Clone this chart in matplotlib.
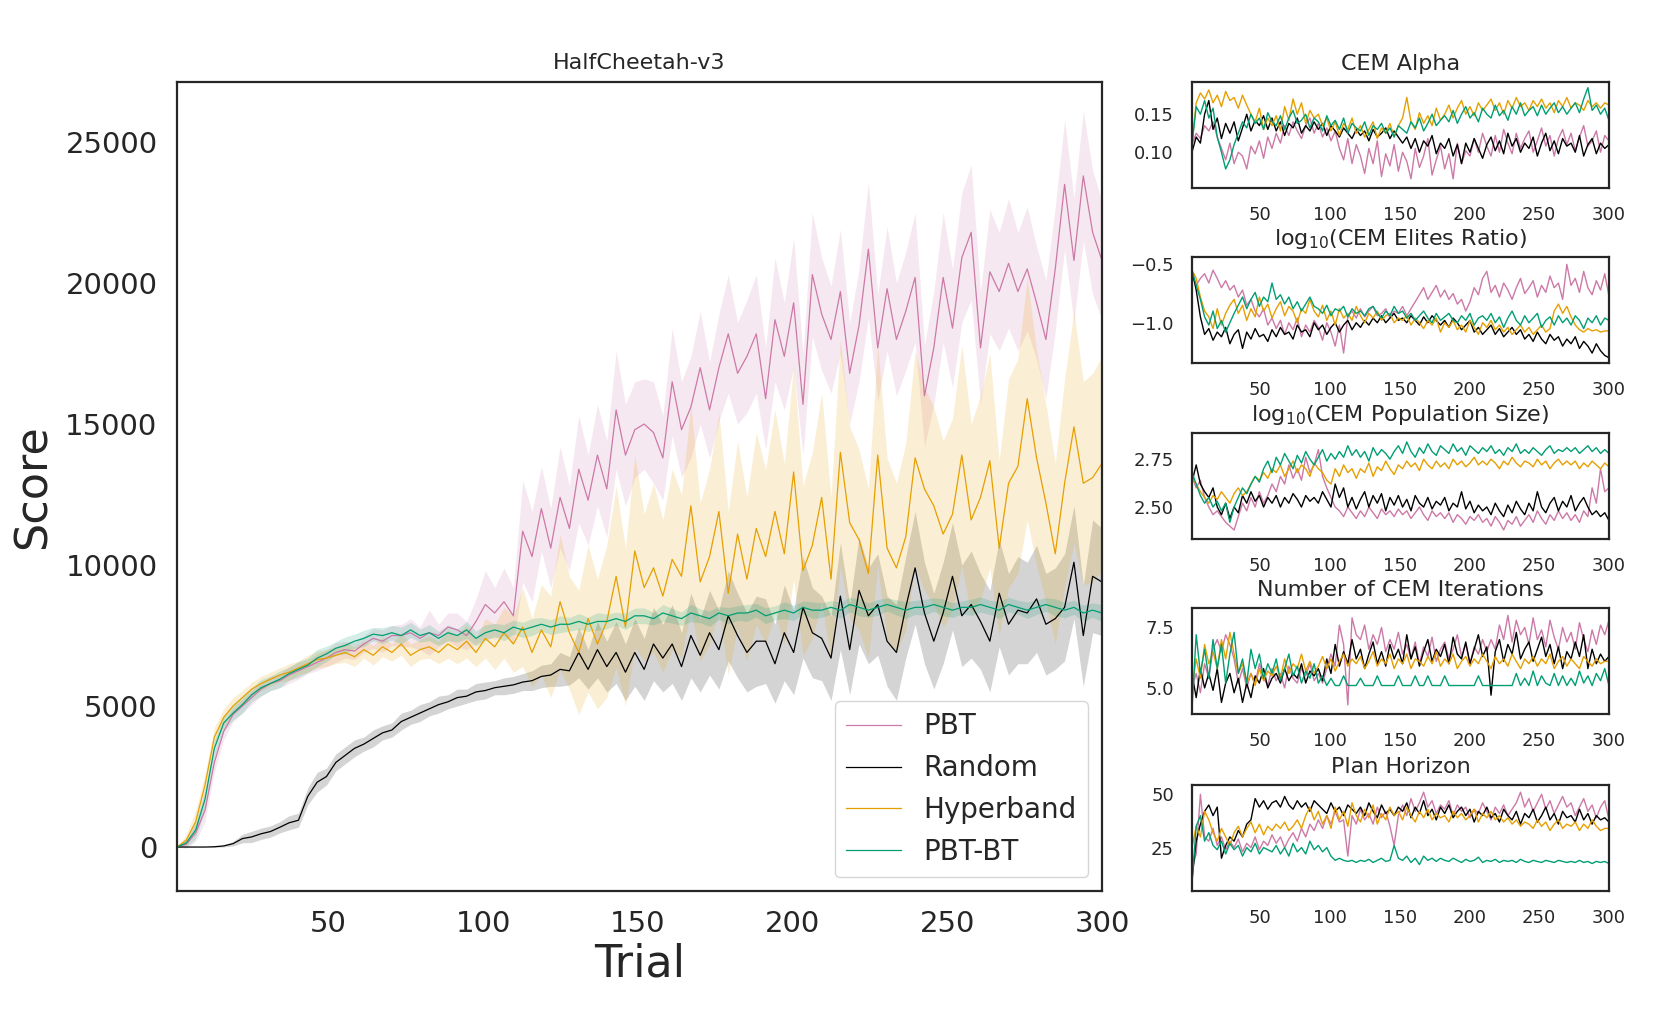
import numpy as np
import matplotlib
matplotlib.use("Agg")
import matplotlib.pyplot as plt

plt.rcParams['font.family'] = ['DejaVu Sans']
plt.rcParams['text.color'] = '.15'
plt.rcParams['axes.labelcolor'] = '.15'
plt.rcParams['xtick.color'] = '.15'
plt.rcParams['ytick.color'] = '.15'


####    data (every ~3rd trial)    ####

trial = np.linspace(1, 300, 100)

methods = ["PBT", "Random", "Hyperband", "PBT-BT"]
colors  = ["#CC79A7", "#000000", "#E69F00", "#009E73"]

# HalfCheetah-v3 score, mean line
score_pbt = [0, 100, 500, 1300, 3000, 4100, 4700, 5000, 5300, 5600,
             5800, 5900, 6100, 6250, 6400, 6550, 6700, 6900, 7000, 6950,
             7200, 7400, 7300, 7500, 7500, 7600, 7400, 7600, 7500, 7800,
             7700, 7500, 8000, 8600, 8300, 8700, 8200, 11200, 10300, 12000,
             10600, 12400, 11300, 13400, 12300, 13900, 12700, 15500, 13900, 14800,
             15000, 14700, 13800, 16500, 14800, 15600, 17000, 15500, 17000, 18200,
             16800, 17400, 18200, 15900, 18700, 17400, 19300, 15700, 20300, 18900,
             18000, 19700, 16800, 18500, 21200, 17700, 19800, 18000, 19000, 20200,
             16000, 17700, 20200, 18400, 20900, 21800, 17700, 20400, 19700, 20700,
             19700, 20500, 19300, 18000, 20500, 23500, 20800, 23800, 21800, 20800]
score_random = [0, 0, 0, 0, 10, 40, 120, 300, 360, 470,
                550, 700, 860, 950, 1800, 2300, 2500, 3000, 3250, 3500,
                3650, 3850, 4050, 4150, 4450, 4600, 4750, 4900, 5050, 5150,
                5300, 5350, 5500, 5550, 5650, 5700, 5750, 5850, 5900, 6050,
                6100, 6300, 6250, 6900, 6300, 7000, 6400, 6900, 6200, 6900,
                6300, 7200, 6700, 7200, 6400, 7500, 6800, 7600, 7000, 8200,
                7500, 6900, 7300, 7300, 6500, 7600, 6900, 8500, 7600, 7400,
                6700, 8900, 7000, 9100, 8200, 8600, 7300, 6900, 8500, 9900,
                8300, 7300, 8300, 9600, 8200, 8600, 8000, 7300, 9000, 7900,
                8400, 8300, 8800, 7900, 8100, 8500, 10100, 7500, 9600, 9400]
score_hyperband = [0, 250, 900, 2200, 3900, 4600, 5000, 5300, 5600, 5800,
                   5950, 6100, 6200, 6350, 6500, 6650, 6700, 6800, 6900, 6750,
                   7000, 6800, 7100, 6900, 7200, 6800, 7000, 7100, 6900, 7200,
                   7000, 7300, 6900, 7400, 7100, 7600, 7200, 7800, 6900, 7700,
                   7100, 8700, 7600, 6900, 8100, 7200, 8000, 9600, 7800, 10500,
                   9200, 9900, 8900, 10200, 9600, 12100, 9400, 10300, 11900, 9000,
                   11100, 9500, 11300, 10300, 11900, 10400, 13300, 9800, 10700, 12400,
                   9500, 14000, 11500, 10900, 9700, 13900, 10600, 9900, 11000, 13800,
                   12700, 12100, 11100, 11800, 13900, 11600, 12400, 13700, 10600, 12900,
                   13500, 15900, 13800, 12200, 10400, 12900, 14900, 12900, 13100, 13600]
score_pbtbt = [0, 150, 600, 1700, 3500, 4400, 4750, 5050, 5400, 5650,
               5800, 5950, 6150, 6300, 6450, 6700, 6850, 7050, 7150, 7300,
               7400, 7550, 7500, 7600, 7500, 7700, 7500, 7600, 7400, 7600,
               7500, 7700, 7400, 7600, 7700, 7600, 7800, 7700, 7800, 7900,
               7800, 7900, 7900, 8000, 7900, 8000, 8000, 8100, 8000, 8200,
               8200, 8100, 8300, 8200, 8100, 8300, 8200, 8100, 8300, 8200,
               8300, 8300, 8400, 8200, 8300, 8400, 8300, 8500, 8400, 8400,
               8500, 8400, 8600, 8500, 8400, 8500, 8600, 8500, 8400, 8500,
               8500, 8600, 8500, 8400, 8500, 8500, 8600, 8500, 8400, 8600,
               8500, 8400, 8500, 8600, 8500, 8400, 8500, 8300, 8400, 8300]

# half width of the shaded band around each line
spread_pbt = [0, 150, 300, 400, 350, 300, 250, 250, 250, 250,
              250, 250, 300, 300, 250, 300, 300, 350, 300, 300,
              300, 350, 400, 350, 400, 500, 400, 800, 400, 500,
              600, 500, 800, 1200, 900, 1200, 1000, 1800, 1600, 1500,
              1400, 1800, 1500, 1900, 1600, 1800, 1700, 2100, 1800, 1700,
              1600, 1800, 1500, 1900, 1700, 1800, 2000, 1700, 1900, 2100,
              1800, 2000, 2100, 1800, 2200, 1900, 2300, 1800, 2200, 2000,
              1900, 2200, 1800, 2000, 2400, 1900, 2200, 2000, 2100, 2300,
              1800, 2000, 2300, 2100, 2300, 2400, 2000, 2200, 2100, 2300,
              2100, 2200, 2000, 2100, 2200, 2300, 2200, 2300, 2200, 2100]
spread_random = [0, 0, 0, 0, 20, 40, 80, 150, 200, 200,
                 200, 200, 250, 250, 300, 350, 300, 300, 300, 300,
                 250, 300, 250, 250, 300, 250, 300, 250, 300, 250,
                 300, 250, 300, 300, 250, 300, 300, 300, 350, 400,
                 400, 600, 500, 900, 700, 1000, 900, 1100, 1000, 1200,
                 1100, 1300, 1200, 1400, 1200, 1500, 1300, 1500, 1400, 1600,
                 1500, 1400, 1600, 1500, 1400, 1700, 1500, 1800, 1600, 1500,
                 1500, 1900, 1600, 1900, 1700, 1800, 1600, 1700, 1800, 2000,
                 1800, 1700, 1800, 1900, 1800, 1900, 1700, 1800, 1900, 1800,
                 1900, 1800, 1900, 1800, 1800, 1900, 2000, 1800, 2000, 1900]
spread_hyperband = [0, 200, 400, 400, 350, 300, 300, 250, 250, 250,
                    250, 250, 300, 250, 300, 300, 300, 300, 350, 350,
                    300, 350, 350, 300, 400, 400, 350, 400, 400, 500,
                    500, 600, 500, 700, 800, 900, 1000, 1400, 1200, 1600,
                    1800, 2400, 2000, 2200, 2600, 2300, 2700, 3200, 2800, 3400,
                    2600, 3000, 2700, 3200, 2900, 3600, 2800, 3100, 3500, 2900,
                    3300, 2900, 3400, 3100, 3600, 3200, 3800, 3000, 3300, 3700,
                    2900, 4000, 3400, 3200, 3000, 3900, 3200, 3000, 3300, 3800,
                    3600, 3500, 3300, 3400, 3900, 3400, 3600, 3800, 3100, 3700,
                    3800, 4300, 3800, 3500, 3200, 3700, 4100, 3600, 3700, 3800]
spread_pbtbt = [0, 150, 300, 350, 300, 280, 250, 300, 240, 290,
                260, 300, 230, 280, 260, 310, 270, 240, 300, 250,
                290, 240, 280, 260, 300, 270, 230, 290, 250, 280,
                240, 300, 260, 280, 230, 290, 250, 270, 300, 240,
                260, 300, 240, 280, 250, 310, 260, 230, 290, 270,
                280, 220, 300, 260, 240, 310, 250, 270, 230, 290,
                260, 300, 240, 280, 250, 300, 270, 230, 290, 260,
                240, 290, 260, 300, 250, 280, 230, 270, 300, 250,
                280, 240, 300, 260, 230, 290, 270, 250, 300, 260,
                250, 290, 260, 240, 300, 270, 250, 280, 260, 300]

# CEM Alpha
alpha_pbt = [.110, .125, .118, .135, .128, .140, .120, .105, .090, .112,
             .085, .100, .095, .078, .108, .098, .115, .092, .120, .105,
             .125, .112, .135, .122, .140, .128, .118, .135, .145, .125,
             .138, .120, .132, .115, .128, .105, .090, .118, .085, .110,
             .095, .072, .105, .085, .115, .068, .098, .082, .110, .075,
             .100, .088, .065, .105, .080, .095, .118, .070, .090, .108,
             .078, .098, .065, .112, .085, .102, .095, .118, .100, .125,
             .108, .095, .122, .100, .130, .112, .098, .125, .105, .118,
             .128, .100, .115, .132, .108, .122, .095, .118, .130, .110,
             .125, .102, .120, .135, .108, .115, .128, .100, .122, .115]
alpha_random = [.100, .120, .112, .150, .168, .130, .145, .118, .138, .125,
                .140, .115, .132, .150, .128, .142, .135, .148, .130, .145,
                .128, .140, .122, .138, .132, .145, .125, .135, .128, .140,
                .130, .138, .122, .135, .128, .120, .132, .125, .118, .130,
                .122, .128, .115, .130, .120, .125, .132, .118, .128, .120,
                .112, .120, .105, .118, .100, .115, .108, .122, .098, .112,
                .105, .118, .095, .110, .085, .112, .100, .118, .105, .092,
                .110, .120, .102, .115, .098, .125, .108, .118, .100, .112,
                .105, .120, .095, .112, .125, .102, .115, .098, .118, .108,
                .112, .100, .122, .095, .110, .118, .098, .112, .105, .110]
alpha_hyperband = [.110, .165, .178, .170, .182, .165, .175, .160, .180, .168,
                   .172, .158, .175, .162, .150, .140, .158, .130, .145, .135,
                   .148, .128, .160, .142, .170, .150, .165, .138, .155, .145,
                   .150, .135, .145, .128, .140, .122, .138, .130, .145, .125,
                   .135, .120, .130, .140, .118, .132, .125, .138, .120, .135,
                   .145, .172, .140, .130, .152, .138, .148, .135, .158, .142,
                   .150, .162, .145, .158, .168, .150, .160, .148, .165, .155,
                   .162, .170, .155, .165, .150, .168, .158, .172, .160, .165,
                   .155, .168, .160, .170, .158, .165, .152, .168, .160, .172,
                   .158, .165, .162, .155, .168, .160, .165, .158, .165, .162]
alpha_pbtbt = [.110, .160, .150, .168, .145, .158, .120, .100, .078, .090,
               .110, .125, .140, .132, .150, .138, .145, .130, .152, .140,
               .135, .148, .130, .145, .155, .138, .142, .150, .132, .145,
               .140, .128, .148, .135, .142, .130, .145, .125, .138, .132,
               .128, .140, .122, .135, .130, .138, .125, .132, .120, .135,
               .130, .125, .140, .132, .145, .128, .138, .150, .135, .142,
               .148, .140, .155, .138, .150, .160, .145, .152, .140, .158,
               .150, .145, .162, .148, .155, .142, .160, .150, .165, .148,
               .155, .160, .148, .162, .150, .158, .165, .152, .160, .150,
               .158, .165, .152, .170, .185, .155, .162, .150, .158, .142]

# log10(CEM Elites Ratio)
elite_pbt = [-.60, -.68, -.62, -.58, -.66, -.55, -.62, -.70, -.64, -.72,
             -.68, -.78, -.72, -.85, -.80, -.90, -.95, -.88, -1.02, -.96,
             -1.05, -.98, -1.10, -1.00, -1.06, -.96, -1.12, -1.02, -1.08, -.98,
             -1.04, -1.15, -1.00, -1.08, -1.20, -1.02, -1.26, -.95, -.90, -.96,
             -.88, -.95, -.90, -.86, -.94, -.92, -.88, -.96, -.90, -.92,
             -.86, -.94, -.88, -.82, -.76, -.70, -.80, -.74, -.68, -.78,
             -.72, -.80, -.75, -.84, -.80, -.90, -.82, -.70, -.76, -.62,
             -.56, -.74, -.68, -.78, -.66, -.72, -.80, -.70, -.62, -.75,
             -.70, -.64, -.78, -.68, -.74, -.60, -.70, -.66, -.80, -.50,
             -.68, -.62, -.74, -.56, -.70, -.76, -.64, -.72, -.58, -.77]
elite_random = [-.55, -.72, -.95, -1.10, -1.05, -1.15, -1.08, -1.12, -1.04, -1.18,
                -1.10, -1.06, -1.22, -1.08, -1.14, -1.05, -1.12, -1.10, -1.16, -1.06,
                -1.12, -1.04, -1.10, -1.08, -1.14, -1.02, -1.08, -1.06, -1.12, -1.00,
                -1.06, -1.02, -1.10, -1.04, -1.00, -1.08, -1.02, -.98, -1.06, -1.00,
                -1.04, -.98, -1.02, -.96, -1.00, -.94, -1.00, -.96, -.92, -.98,
                -.96, -1.00, -.94, -.98, -1.02, -.95, -1.00, -.94, -.98, -1.02,
                -.98, -1.04, -.96, -1.00, -1.06, -1.02, -.98, -1.08, -1.04, -1.10,
                -1.06, -1.02, -1.10, -1.05, -1.12, -1.08, -1.04, -1.10, -1.06, -1.14,
                -1.10, -1.16, -1.08, -1.14, -1.18, -1.10, -1.15, -1.12, -1.20, -1.14,
                -1.18, -1.12, -1.22, -1.16, -1.20, -1.26, -1.18, -1.24, -1.28, -1.30]
elite_hyperband = [-.55, -.62, -.78, -.90, -.95, -1.05, -.88, -1.02, -.92, -.85,
                   -.80, -.92, -.85, -.98, -.88, -.95, -.78, -.90, -.84, -.96,
                   -.88, -.82, -.94, -.86, -.90, -1.00, -.88, -.92, -.80, -.90,
                   -.95, -.85, -.98, -.90, -1.02, -.88, -.96, -.92, -.98, -.86,
                   -.94, -1.00, -.92, -.96, -.90, -.98, -.94, -.92, -1.00, -.96,
                   -.98, -.94, -1.02, -.96, -1.00, -1.05, -.98, -1.02, -.96, -1.08,
                   -1.00, -1.04, -.98, -1.06, -1.02, -1.08, -.98, -1.04, -1.10, -1.00,
                   -1.04, -.98, -1.06, -1.02, -1.08, -1.04, -1.10, -1.06, -1.02, -1.08,
                   -1.04, -1.10, -1.06, -1.02, -1.08, -1.05, -.90, -.84, -.92, -.86,
                   -.95, -1.02, -1.06, -1.08, -1.05, -1.07, -1.06, -1.08, -1.07, -1.07]
elite_pbtbt = [-.55, -.68, -.80, -.95, -1.02, -.90, -1.05, -.98, -1.08, -1.00,
               -.92, -.85, -.78, -.88, -.80, -.74, -.86, -.78, -.82, -.66,
               -.80, -.76, -.84, -.78, -.88, -.82, -.90, -.84, -.78, -.86,
               -.88, -.92, -.85, -.94, -.88, -.90, -.86, -.95, -.88, -.92,
               -.90, -.94, -.88, -.86, -.92, -.96, -.90, -.94, -.86, -.92,
               -.90, -.96, -.92, -.98, -.94, -.90, -.96, -1.00, -.92, -.98,
               -.95, -.92, -.98, -1.00, -.94, -.98, -.92, -1.02, -.96, -.94,
               -.98, -.92, -1.00, -.95, -1.04, -.96, -.90, -.98, -1.02, -.94,
               -1.00, -.96, -.92, -1.04, -.98, -.95, -1.02, -.94, -1.00, -.96,
               -1.02, -.94, -.98, -1.05, -.96, -1.00, -.94, -1.02, -.96, -.98]

# log10(CEM Population Size)
pop_pbt = [2.66, 2.60, 2.64, 2.55, 2.50, 2.46, 2.48, 2.45, 2.42, 2.40,
           2.38, 2.45, 2.52, 2.48, 2.55, 2.50, 2.58, 2.52, 2.56, 2.62,
           2.58, 2.66, 2.62, 2.72, 2.65, 2.70, 2.64, 2.76, 2.68, 2.72,
           2.80, 2.66, 2.60, 2.55, 2.50, 2.48, 2.45, 2.50, 2.47, 2.44,
           2.48, 2.45, 2.50, 2.47, 2.44, 2.49, 2.46, 2.48, 2.45, 2.49,
           2.46, 2.48, 2.44, 2.47, 2.50, 2.46, 2.43, 2.48, 2.45, 2.47,
           2.44, 2.47, 2.42, 2.46, 2.44, 2.41, 2.45, 2.43, 2.46, 2.42,
           2.44, 2.40, 2.45, 2.42, 2.38, 2.43, 2.41, 2.45, 2.40, 2.43,
           2.46, 2.42, 2.48, 2.44, 2.41, 2.46, 2.43, 2.48, 2.44, 2.47,
           2.43, 2.46, 2.42, 2.48, 2.45, 2.60, 2.52, 2.70, 2.58, 2.60]
pop_random = [2.63, 2.72, 2.62, 2.58, 2.55, 2.60, 2.50, 2.46, 2.52, 2.44,
              2.50, 2.47, 2.56, 2.52, 2.58, 2.53, 2.56, 2.50, 2.55, 2.52,
              2.56, 2.50, 2.55, 2.52, 2.57, 2.54, 2.50, 2.56, 2.53, 2.55,
              2.52, 2.58, 2.54, 2.50, 2.62, 2.55, 2.60, 2.50, 2.55, 2.49,
              2.54, 2.58, 2.50, 2.56, 2.52, 2.57, 2.48, 2.55, 2.51, 2.56,
              2.50, 2.54, 2.48, 2.56, 2.52, 2.50, 2.55, 2.49, 2.53, 2.51,
              2.55, 2.48, 2.52, 2.50, 2.58, 2.49, 2.53, 2.47, 2.51, 2.48,
              2.50, 2.46, 2.52, 2.48, 2.45, 2.51, 2.47, 2.53, 2.49, 2.46,
              2.52, 2.48, 2.58, 2.50, 2.47, 2.52, 2.55, 2.48, 2.53, 2.50,
              2.56, 2.48, 2.52, 2.55, 2.50, 2.46, 2.48, 2.45, 2.47, 2.43]
pop_hyperband = [2.65, 2.62, 2.58, 2.55, 2.52, 2.56, 2.54, 2.58, 2.55, 2.52,
                 2.57, 2.60, 2.56, 2.58, 2.62, 2.66, 2.64, 2.68, 2.65, 2.70,
                 2.68, 2.72, 2.66, 2.70, 2.74, 2.68, 2.72, 2.70, 2.66, 2.73,
                 2.70, 2.68, 2.64, 2.62, 2.70, 2.66, 2.72, 2.68, 2.70, 2.65,
                 2.70, 2.68, 2.73, 2.66, 2.71, 2.69, 2.74, 2.70, 2.67, 2.72,
                 2.70, 2.74, 2.71, 2.73, 2.69, 2.75, 2.72, 2.70, 2.74, 2.71,
                 2.73, 2.70, 2.75, 2.72, 2.74, 2.71, 2.73, 2.76, 2.72, 2.74,
                 2.72, 2.75, 2.73, 2.70, 2.74, 2.72, 2.76, 2.73, 2.71, 2.74,
                 2.73, 2.71, 2.75, 2.72, 2.74, 2.70, 2.73, 2.75, 2.72, 2.74,
                 2.72, 2.74, 2.70, 2.73, 2.71, 2.74, 2.72, 2.70, 2.73, 2.71]
pop_pbtbt = [2.68, 2.62, 2.56, 2.52, 2.55, 2.50, 2.53, 2.48, 2.52, 2.42,
             2.50, 2.55, 2.60, 2.57, 2.62, 2.66, 2.63, 2.70, 2.74, 2.68,
             2.76, 2.72, 2.78, 2.74, 2.70, 2.77, 2.73, 2.79, 2.75, 2.72,
             2.76, 2.80, 2.74, 2.78, 2.75, 2.79, 2.76, 2.82, 2.77, 2.80,
             2.76, 2.79, 2.74, 2.81, 2.77, 2.80, 2.78, 2.75, 2.79, 2.82,
             2.78, 2.84, 2.79, 2.76, 2.81, 2.78, 2.83, 2.79, 2.77, 2.82,
             2.80, 2.78, 2.83, 2.79, 2.81, 2.77, 2.82, 2.80, 2.78, 2.81,
             2.79, 2.82, 2.78, 2.80, 2.77, 2.81, 2.79, 2.83, 2.78, 2.80,
             2.78, 2.81, 2.79, 2.77, 2.80, 2.82, 2.78, 2.80, 2.79, 2.81,
             2.79, 2.81, 2.78, 2.80, 2.82, 2.79, 2.81, 2.78, 2.80, 2.78]

# Number of CEM Iterations
iters_pbt = [5.0, 5.6, 4.8, 6.0, 5.4, 6.6, 7.0, 6.5, 7.2, 6.8,
             6.2, 5.2, 5.8, 5.0, 5.6, 5.2, 6.0, 5.4, 5.1, 5.8,
             5.3, 5.6, 5.0, 5.9, 5.4, 5.2, 5.8, 5.5, 6.0, 5.3,
             5.6, 5.2, 5.8, 6.4, 5.9, 7.6, 6.8, 4.3, 7.9, 7.2,
             7.0, 7.6, 6.6, 7.2, 6.8, 7.5, 6.5, 7.0, 6.6, 7.3,
             6.4, 6.8, 6.2, 6.9, 6.0, 6.7, 6.3, 7.1, 6.1, 6.6,
             6.9, 6.2, 6.6, 7.2, 6.3, 6.8, 6.0, 6.7, 6.4, 7.0,
             6.5, 7.0, 6.6, 7.6, 7.0, 8.0, 6.9, 7.8, 7.2, 7.5,
             6.8, 7.9, 7.0, 7.4, 6.7, 7.8, 7.1, 6.6, 7.5, 6.9,
             7.3, 6.6, 7.7, 7.0, 6.5, 7.4, 6.8, 7.6, 7.2, 7.8]
iters_random = [5.6, 4.6, 5.8, 5.0, 5.6, 4.9, 5.8, 4.4, 5.2, 5.6,
                4.8, 5.4, 4.4, 5.2, 4.6, 5.5, 5.2, 5.8, 5.0, 5.4,
                5.6, 5.2, 5.8, 5.3, 5.6, 5.4, 6.0, 5.2, 5.7, 5.5,
                5.8, 5.3, 6.2, 5.6, 6.8, 5.9, 6.5, 6.0, 7.0, 6.2,
                6.6, 5.8, 6.4, 6.9, 6.0, 6.5, 5.9, 6.8, 6.2, 6.6,
                6.0, 7.2, 6.2, 6.7, 5.9, 6.5, 7.0, 6.1, 6.6, 6.3,
                6.8, 6.0, 7.1, 6.4, 6.2, 6.9, 6.0, 6.6, 7.2, 6.3,
                6.7, 4.7, 6.5, 7.0, 6.1, 6.8, 6.4, 7.3, 6.2, 6.6,
                6.9, 6.1, 6.6, 7.1, 6.3, 6.8, 6.0, 6.7, 5.8, 6.5,
                6.2, 6.9, 6.3, 7.2, 5.8, 6.6, 6.0, 6.4, 6.1, 6.3]
iters_hyperband = [5.0, 6.2, 5.4, 6.8, 6.0, 6.5, 5.8, 7.0, 6.2, 7.3,
                   6.4, 5.6, 6.0, 5.2, 5.6, 5.1, 5.8, 5.3, 5.7, 5.5,
                   5.9, 5.4, 6.2, 5.6, 6.0, 5.8, 6.4, 5.7, 6.1, 5.6,
                   5.9, 6.3, 5.8, 6.2, 5.7, 6.1, 6.4, 5.9, 6.2, 6.0,
                   6.3, 5.8, 6.1, 6.5, 5.9, 6.2, 6.0, 6.4, 5.8, 6.2,
                   6.0, 6.4, 5.8, 6.2, 6.1, 5.9, 6.3, 6.0, 6.5, 5.9,
                   6.2, 6.0, 6.4, 5.8, 6.1, 6.3, 5.9, 6.2, 6.0, 6.4,
                   6.1, 5.8, 6.3, 6.0, 6.2, 5.9, 6.4, 6.1, 5.8, 6.2,
                   6.0, 6.3, 5.9, 6.2, 6.0, 6.4, 5.8, 6.1, 6.3, 5.9,
                   6.2, 6.0, 5.8, 6.3, 6.1, 5.9, 6.2, 6.0, 6.1, 6.1]
iters_pbtbt = [4.1, 7.2, 5.6, 6.6, 5.4, 7.0, 5.8, 6.8, 5.2, 6.4,
               7.3, 5.6, 6.2, 5.2, 6.6, 5.8, 6.4, 5.4, 6.0, 5.6,
               6.2, 5.3, 5.8, 6.4, 5.5, 5.9, 5.2, 5.7, 5.4, 6.0,
               5.2, 5.5, 5.1, 5.4, 5.1, 5.1, 5.5, 5.1, 5.1, 5.1,
               5.4, 5.1, 5.1, 5.1, 5.5, 5.1, 5.1, 5.1, 5.1, 5.5,
               5.1, 5.1, 5.1, 5.5, 5.1, 5.1, 5.5, 5.1, 5.1, 5.1,
               5.5, 5.1, 5.1, 5.1, 5.1, 5.1, 5.1, 5.1, 5.5, 5.1,
               5.1, 5.1, 5.1, 5.1, 5.1, 5.1, 5.1, 5.6, 5.1, 5.4,
               5.1, 5.7, 5.1, 5.5, 5.2, 5.1, 5.6, 5.1, 5.5, 5.1,
               5.4, 5.1, 5.7, 5.2, 5.5, 5.1, 5.6, 5.3, 5.8, 5.1]

# Plan Horizon
horizon_pbt = [15, 22, 50, 30, 28, 34, 26, 30, 24, 28,
               25, 29, 23, 27, 25, 30, 24, 28, 26, 31,
               27, 30, 25, 29, 32, 28, 34, 30, 36, 33,
               38, 34, 40, 36, 42, 37, 38, 21, 40, 36,
               43, 38, 41, 36, 44, 39, 42, 35, 26, 40,
               45, 40, 48, 42, 46, 51, 44, 47, 41, 45,
               43, 47, 40, 45, 42, 44, 39, 43, 41, 46,
               42, 38, 44, 41, 45, 40, 43, 46, 51, 44,
               48, 42, 46, 50, 43, 47, 41, 45, 49, 44,
               46, 40, 44, 48, 42, 45, 39, 44, 47, 38]
horizon_random = [10, 28, 36, 42, 45, 40, 44, 20, 26, 30,
                  28, 33, 30, 36, 38, 48, 44, 47, 43, 46,
                  47, 44, 49, 45, 43, 47, 44, 46, 42, 47,
                  45, 43, 41, 46, 42, 44, 40, 45, 43, 41,
                  44, 40, 46, 42, 39, 45, 41, 43, 40, 44,
                  42, 46, 39, 44, 41, 47, 40, 43, 38, 44,
                  41, 45, 39, 42, 44, 40, 43, 37, 42, 40,
                  44, 39, 41, 37, 43, 40, 38, 42, 36, 41,
                  39, 43, 37, 40, 44, 38, 41, 36, 42, 39,
                  40, 37, 43, 38, 41, 36, 40, 38, 39, 37]
horizon_hyperband = [25, 35, 30, 42, 38, 32, 28, 34, 30, 26,
                     32, 35, 30, 34, 37, 32, 36, 31, 35, 33,
                     36, 34, 37, 33, 35, 38, 34, 40, 44, 38,
                     42, 36, 40, 34, 44, 38, 42, 35, 46, 40,
                     37, 43, 39, 45, 36, 41, 38, 44, 40, 42,
                     38, 44, 40, 37, 42, 39, 43, 38, 41, 39,
                     40, 37, 42, 39, 41, 38, 40, 43, 37, 41,
                     39, 42, 38, 40, 37, 39, 36, 38, 35, 37,
                     36, 34, 38, 35, 37, 33, 36, 38, 34, 36,
                     35, 37, 33, 36, 34, 38, 35, 33, 34, 34]
horizon_pbtbt = [8, 35, 40, 28, 32, 26, 24, 28, 22, 27,
                 24, 26, 21, 25, 23, 27, 22, 25, 24, 23,
                 26, 22, 25, 21, 27, 23, 25, 22, 28, 24,
                 26, 23, 25, 21, 19, 20, 19, 18.5, 19, 18,
                 19, 18.5, 19.5, 18, 19, 20, 18.5, 19, 26, 20,
                 19, 21, 18, 20, 17, 21, 19, 20, 18.5, 20,
                 19, 18.5, 20, 19, 18, 19.5, 18.5, 19, 20.5, 18,
                 19, 18.5, 19.5, 18, 19, 18.5, 19, 18, 19.5, 18.5,
                 18, 19, 18.5, 18, 19, 18.5, 18, 19, 18.5, 18,
                 18.5, 18, 19, 18, 18.5, 17.5, 18.5, 18, 18.5, 17.5]


####    figure    ####

fig = plt.figure(figsize=(16.76, 10.16), dpi=100)

# main panel
ax = fig.add_axes([0.1056, 0.1230, 0.5519, 0.7963])
scores  = [score_pbt, score_random, score_hyperband, score_pbtbt]
spreads = [spread_pbt, spread_random, spread_hyperband, spread_pbtbt]
for name, col, m, s in zip(methods, colors, scores, spreads):
    m = np.array(m, dtype=float)
    s = np.array(s, dtype=float)
    ax.fill_between(trial, m - s, m + s, color=col, alpha=0.17, lw=0)
    ax.plot(trial, m, color=col, lw=0.9, label=name)

ax.set_xlim(1, 300)
ax.set_ylim(-1560, 27130)
ax.set_xticks([50, 100, 150, 200, 250, 300])
ax.set_yticks([0, 5000, 10000, 15000, 20000, 25000])
ax.tick_params(labelsize=21, length=0, pad=14)
ax.set_xlabel("Trial", fontsize=32, labelpad=3)
ax.set_ylabel("Score", fontsize=32, labelpad=8)
ax.set_title("HalfCheetah-v3", fontsize=16, pad=9)
for sp in ax.spines.values():
    sp.set_color('.15')
    sp.set_linewidth(1.6)
leg = ax.legend(loc="lower right", fontsize=20, frameon=True, edgecolor='0.8')

# hyper-parameter panels
small = [
    ("CEM Alpha", [alpha_pbt, alpha_random, alpha_hyperband, alpha_pbtbt],
     (0.053, 0.192), [0.10, 0.15]),
    (r"log$_{10}$(CEM Elites Ratio)", [elite_pbt, elite_random, elite_hyperband, elite_pbtbt],
     (-1.345, -0.44), [-1.0, -0.5]),
    (r"log$_{10}$(CEM Population Size)", [pop_pbt, pop_random, pop_hyperband, pop_pbtbt],
     (2.333, 2.885), [2.50, 2.75]),
    ("Number of CEM Iterations", [iters_pbt, iters_random, iters_hyperband, iters_pbtbt],
     (3.92, 8.29), [5.0, 7.5]),
    ("Plan Horizon", [horizon_pbt, horizon_random, horizon_hyperband, horizon_pbtbt],
     (4.6, 54.2), [25, 50]),
]
bottoms = [0.8150, 0.6427, 0.4695, 0.2972, 0.1230]

for (title, series, ylim, yt), b in zip(small, bottoms):
    sax = fig.add_axes([0.7112, b, 0.2488, 0.1040])
    for col, vals in zip(colors, series):
        sax.plot(trial, vals, color=col, lw=1.0)
    sax.set_xlim(1, 300)
    sax.set_ylim(*ylim)
    sax.set_xticks([50, 100, 150, 200, 250, 300])
    sax.set_yticks(yt)
    sax.tick_params(labelsize=13, length=0, pad=13)
    sax.set_title(title, fontsize=16, pad=9)
    for sp in sax.spines.values():
        sp.set_color('.15')
        sp.set_linewidth(1.6)

fig.savefig("out.png", dpi=100)
